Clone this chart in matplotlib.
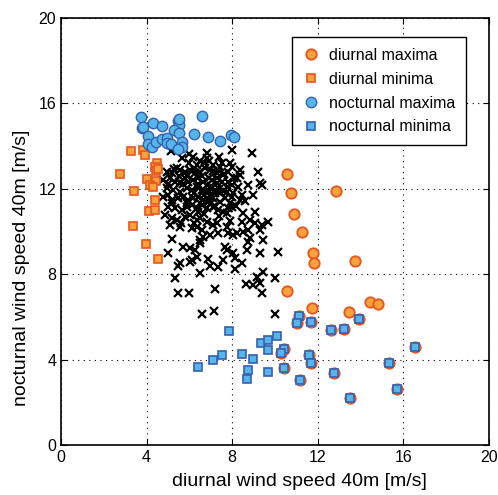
import matplotlib
matplotlib.use("Agg")
import matplotlib.pyplot as plt

plt.rcParams['font.family'] = ['Liberation Sans', 'DejaVu Sans']

# diurnal maxima (orange circles)
dmax_x = [10.57, 10.76, 12.84, 10.87, 11.25, 11.76, 11.84, 13.75, 10.57, 11.71,
          13.47, 14.44, 14.79,
          11.11, 11.01, 11.67, 12.63, 13.24, 13.91, 10.42, 10.27, 11.59, 11.67,
          10.42, 11.17, 12.76, 13.49, 15.31, 15.69, 16.54]
dmax_y = [12.68, 11.78, 11.87, 10.81, 9.95, 8.97, 8.51, 8.62, 7.19, 6.39,
          6.20, 6.70, 6.59,
          6.03, 5.69, 5.74, 5.38, 5.43, 5.88, 4.49, 4.32, 4.21, 3.82,
          3.59, 3.04, 3.38, 2.21, 3.84, 2.61, 4.57]

# diurnal minima (orange squares)
dmin_x = [3.29, 3.85, 3.93, 2.74, 4.47, 4.39, 4.44, 4.52, 4.02, 4.44,
          4.16, 4.28, 3.40, 4.39, 4.10, 4.39, 3.35, 3.97, 4.53]
dmin_y = [13.74, 13.80, 13.58, 12.69, 13.19, 13.02, 12.82, 12.91, 12.46, 12.34,
          12.16, 12.07, 11.87, 11.46, 10.93, 11.01, 10.25, 9.39, 8.72]

# nocturnal maxima (blue circles)
nmax_x = [3.74, 4.30, 4.71, 3.77, 3.83, 4.07, 5.48, 5.51, 5.29, 5.51,
          6.59, 6.20, 6.86, 7.43, 7.93, 8.08, 4.05, 4.25, 4.45, 4.72,
          4.97, 4.94, 5.13, 5.67, 5.64, 5.48, 5.50]
nmax_y = [15.34, 15.06, 14.91, 14.84, 14.88, 14.47, 15.17, 14.98, 14.74, 14.58,
          15.39, 14.57, 14.41, 14.24, 14.50, 14.42, 14.07, 13.96, 14.16, 14.30,
          14.38, 14.11, 14.07, 14.16, 13.93, 13.83, 15.24]

# nocturnal minima (blue squares)
nmin_x = [11.11, 11.01, 11.67, 12.63, 13.24, 13.91, 10.42, 10.27, 11.59, 11.67,
          10.42, 11.17, 12.76, 13.49, 15.31, 15.69, 16.54,
          7.85, 6.42, 7.09, 7.52, 8.47, 8.97, 8.72, 8.68, 9.33, 9.66, 10.09,
          9.66, 9.67]
nmin_y = [6.03, 5.69, 5.74, 5.38, 5.43, 5.88, 4.49, 4.32, 4.21, 3.82,
          3.59, 3.04, 3.38, 2.21, 3.84, 2.61, 4.57,
          5.35, 3.65, 3.99, 4.22, 4.26, 4.01, 3.51, 3.09, 4.79, 4.91, 5.11,
          4.46, 3.40]

# all days (black crosses)
all_x = [5.13, 6.00, 5.64, 6.18, 6.50, 6.84, 6.84, 7.40, 7.98, 8.91,
         6.34, 6.68, 7.12, 7.43, 7.90, 7.98, 8.37, 9.22, 4.94, 5.17,
         5.41, 5.56, 5.80, 6.03, 6.26, 6.50, 6.73, 6.96, 7.28, 7.59,
         7.82, 8.21, 8.37, 9.30, 4.78, 5.09, 5.33, 5.56, 5.80, 5.95,
         6.18, 6.42, 6.65, 6.81, 7.04, 7.28, 7.51, 7.74, 7.98, 8.29,
         8.76, 9.38, 4.94, 5.25, 5.56, 5.87, 6.11, 6.34, 6.57, 6.81,
         6.96, 7.20, 7.43, 7.74, 8.05, 8.44, 8.37, 8.99, 4.78, 5.02,
         5.17, 5.48, 5.72, 5.95, 6.18, 6.42, 6.65, 6.89, 7.12, 7.43,
         7.66, 7.90, 7.98, 5.02, 5.33, 5.64, 5.87, 6.11, 6.34, 6.57,
         6.81, 7.12, 7.35, 7.59, 7.74, 8.52, 9.07, 4.86, 5.17, 5.41,
         5.80, 6.03, 6.34, 6.50, 6.81, 7.12, 7.28, 7.74, 8.44, 8.83,
         9.07, 9.38, 9.69, 5.09, 5.56, 6.11, 6.34, 6.57, 6.65, 6.50,
         6.96, 7.35, 7.82, 8.05, 8.21, 8.52, 8.76, 9.30, 8.83, 8.76,
         9.46, 5.17, 5.69, 6.03, 6.26, 6.50, 6.34, 6.11, 5.56, 5.48,
         6.03, 6.89, 6.96, 7.35, 7.59, 7.66, 7.74, 8.05, 8.13, 8.13,
         8.44, 8.68, 9.30, 10.16, 5.02, 9.46, 9.14, 8.65, 8.99, 9.30,
         10.00, 9.38, 5.33, 6.50, 7.20, 5.48, 6.00, 6.60, 7.15, 10.00,
         5.90, 6.20, 6.40, 6.60, 6.90, 7.10, 7.30, 7.00, 7.20, 6.70,
         6.90, 7.40, 7.60, 7.60, 7.80, 7.00, 7.20, 7.00, 6.50, 6.20,
         5.70, 5.50, 5.30, 6.00, 6.90, 5.90, 6.40, 6.70, 7.40, 7.80,
         8.00, 7.50, 5.00, 5.20, 5.60, 6.20, 8.20, 7.90, 8.60, 8.10]
all_y = [13.76, 13.62, 13.41, 13.49, 13.30, 13.65, 13.41, 13.49, 13.80, 13.65,
         13.10, 13.18, 13.10, 13.02, 13.18, 12.99, 12.87, 12.79, 12.79, 12.71,
         12.94, 12.87, 12.79, 12.87, 12.71, 12.79, 12.94, 12.87, 12.71, 12.63,
         12.79, 12.48, 12.63, 12.24, 12.40, 12.48, 12.32, 12.24, 12.48, 12.32,
         12.40, 12.48, 12.32, 12.16, 12.40, 12.24, 12.32, 12.09, 12.16, 12.09,
         12.16, 12.16, 12.01, 11.93, 11.85, 12.01, 11.93, 12.09, 11.93, 11.85,
         11.70, 11.93, 11.77, 11.85, 11.77, 11.70, 11.46, 11.70, 11.62, 11.70,
         11.46, 11.54, 11.62, 11.46, 11.54, 11.62, 11.46, 11.39, 11.54, 11.39,
         11.54, 11.31, 11.15, 11.15, 11.07, 11.00, 11.15, 11.23, 11.07, 11.23,
         11.07, 11.15, 11.00, 10.92, 10.84, 10.84, 10.92, 10.76, 10.61, 10.53,
         10.68, 10.76, 10.53, 10.61, 10.45, 10.29, 10.37, 10.22, 10.45, 10.53,
         10.37, 10.29, 10.45, 10.29, 10.22, 10.14, 10.22, 10.06, 9.75, 9.59,
         9.83, 9.90, 9.90, 9.83, 9.90, 9.98, 10.06, 10.06, 9.67, 9.51,
         9.59, 9.62, 9.28, 9.20, 9.12, 9.44, 8.81, 8.66, 8.50, 8.38,
         8.58, 8.69, 8.38, 8.31, 8.66, 9.28, 9.12, 8.97, 8.73, 8.22,
         8.50, 9.12, 9.00, 9.05, 8.97, 8.11, 7.88, 7.53, 7.49, 7.60,
         7.80, 7.13, 7.83, 8.03, 7.30, 7.10, 7.13, 6.13, 6.28, 6.14,
         12.60, 12.90, 12.20, 12.60, 12.50, 12.80, 12.50, 12.10, 11.80, 11.70,
         11.90, 12.00, 11.90, 12.70, 12.30, 11.30, 11.20, 11.60, 11.30, 11.80,
         12.20, 12.60, 12.90, 13.20, 13.30, 11.30, 10.90, 10.80, 10.70, 11.10,
         11.60, 13.20, 12.20, 11.30, 10.40, 10.40, 11.20, 10.50, 11.40, 12.50]

ticks = [0, 4, 8, 12, 16, 20]

orange_face = '#F9A13A'
orange_edge = '#E8551E'
blue_face = '#56B6EA'
blue_edge = '#3560B0'

fig = plt.figure(figsize=(4.98, 4.95), dpi=100)
ax = fig.add_axes([0.1225, 0.101, 0.8595, 0.8636])

ax.plot(all_x, all_y, 'x', color='black', markersize=5.5, markeredgewidth=1.6)
ax.plot(dmax_x, dmax_y, 'o', color=orange_face, markeredgecolor=orange_edge,
        markersize=7.5, markeredgewidth=1.3, label='diurnal maxima')
ax.plot(dmin_x, dmin_y, 's', color=orange_face, markeredgecolor=orange_edge,
        markersize=6, markeredgewidth=1.2, label='diurnal minima')
ax.plot(nmax_x, nmax_y, 'o', color=blue_face, markeredgecolor=blue_edge,
        markersize=7.5, markeredgewidth=1.0, label='nocturnal maxima')
ax.plot(nmin_x, nmin_y, 's', color=blue_face, markeredgecolor=blue_edge,
        markersize=6, markeredgewidth=1.2, label='nocturnal minima')

ax.set_xlim(0, 20)
ax.set_ylim(0, 20)
ax.set_xticks(ticks)
ax.set_yticks(ticks)
ax.tick_params(direction='in', length=4, labelsize=11.5, top=True, right=True)
ax.grid(True, linestyle=(0, (1, 4)), color='black', linewidth=0.8)
for s in ax.spines.values():
    s.set_linewidth(1.2)

ax.set_xlabel('diurnal wind speed 40m [m/s]', fontsize=14)
ax.set_ylabel('nocturnal wind speed 40m [m/s]', fontsize=14)
# labels sit off-centre in the reference
ax.xaxis.set_label_coords(0.558, -0.066)
ax.yaxis.set_label_coords(-0.072, 0.415)

leg = ax.legend(loc='upper left', bbox_to_anchor=(0.54, 0.955), fontsize=11.5,
                fancybox=False, framealpha=1, edgecolor='black',
                handlelength=1.0, handletextpad=0.6, borderpad=0.7,
                labelspacing=0.55, borderaxespad=0)
leg.get_frame().set_linewidth(1.0)

fig.savefig('out.png', dpi=100)
